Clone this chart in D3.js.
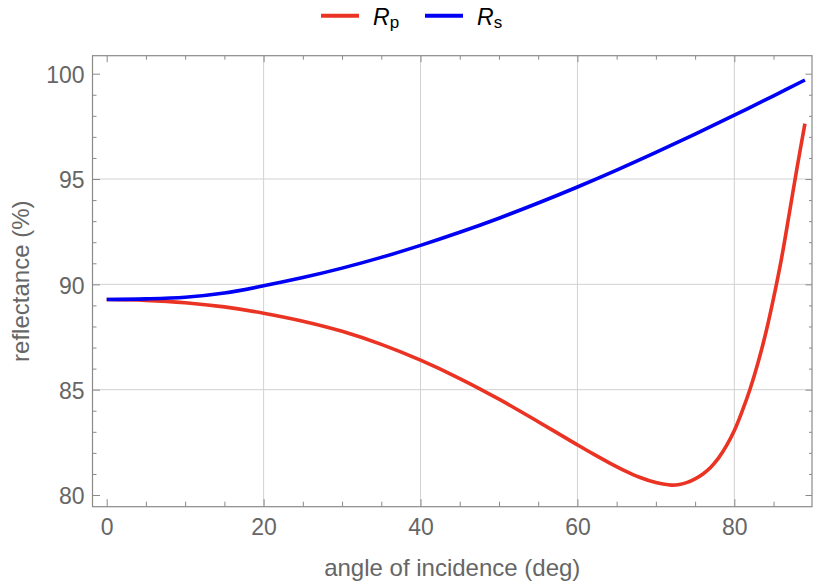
<!DOCTYPE html>
<html>
<head>
<meta charset="utf-8">
<script src="https://cdn.jsdelivr.net/npm/d3@7"></script>
<style>
  body { margin: 0; background: #fff; }
  text { font-family: "Liberation Sans", Arial, sans-serif; }
</style>
</head>
<body>
<svg id="chart" width="814" height="583"></svg>
<script>
// values
var rsAngle = [0, 5, 10, 15, 20, 25, 30, 35, 40, 45, 50, 55, 60, 65, 70, 75, 80, 85, 89]
var rsValue = [89.28, 89.31, 89.39, 89.59, 89.93, 90.32, 90.77, 91.28, 91.85, 92.47, 93.14, 93.86, 94.62, 95.42, 96.26, 97.13, 98.03, 98.95, 99.7]

var rpAngle = [0, 5, 10, 15, 20, 25, 30, 35, 40, 45, 50, 55, 60, 62, 64, 66, 68, 70, 72, 73, 74, 75, 76, 77, 78, 79, 80, 81, 82, 83, 84, 85, 86, 87, 88, 89]
var rpValue = [89.28, 89.24, 89.13, 88.93, 88.63, 88.25, 87.77, 87.15, 86.4, 85.53, 84.55, 83.48, 82.38, 81.95, 81.54, 81.16, 80.83, 80.59, 80.47, 80.5, 80.6, 80.77, 81.0, 81.32, 81.76, 82.34, 83.06, 83.98, 85.02, 86.25, 87.68, 89.35, 91.2, 93.35, 95.55, 97.63]

var xMajor = [0, 20, 40, 60, 80]
var yMajor = [80, 85, 90, 95, 100]
var xGrid = [20, 40, 60, 80]
var yGrid = [85, 90, 95]

var series = [
    { name: "p", color: "#ea3323", angle: rpAngle, value: rpValue },
    { name: "s", color: "#0000f5", angle: rsAngle, value: rsValue }
]

var svg = d3.select("#chart")

var plotLeft = 92.5, plotRight = 812, plotTop = 55.7, plotBottom = 506.7

var x = d3.scaleLinear().domain([-1.81, 89.9]).range([plotLeft, plotRight])
var y = d3.scaleLinear().domain([79.445, 100.854]).range([plotBottom, plotTop])

var frameColor = "#8a8a8a"
var textColor = "#666"

// grid lines
svg.selectAll(".vgrid").data(xGrid).enter().append("line")
    .attr("x1", d => x(d)).attr("x2", d => x(d))
    .attr("y1", plotTop).attr("y2", plotBottom)
    .style("stroke", "#d2d2d2").style("stroke-width", 1)

svg.selectAll(".hgrid").data(yGrid).enter().append("line")
    .attr("x1", plotLeft).attr("x2", plotRight)
    .attr("y1", d => y(d)).attr("y2", d => y(d))
    .style("stroke", "#d2d2d2").style("stroke-width", 1)

// curves
var line = d3.line().curve(d3.curveCatmullRom.alpha(0.5))
series.forEach(function (s) {
    var pts = s.angle.map((a, i) => [x(a), y(s.value[i])])
    svg.append("path")
        .attr("d", line(pts))
        .style("fill", "none")
        .style("stroke", s.color)
        .style("stroke-width", 3.6)
        .style("stroke-linecap", "butt")
})

// frame with ticks on all four sides
var xMinor = d3.range(5, 90, 5).filter(d => xMajor.indexOf(d) < 0)
var yMinor = d3.range(80, 101, 1).filter(d => yMajor.indexOf(d) < 0)

var g = svg.append("g")

g.append("g").attr("transform", "translate(0," + plotBottom + ")")
    .call(d3.axisBottom(x).tickValues(xMajor).tickSizeInner(-7.5).tickSizeOuter(0).tickPadding(12))
g.append("g").attr("transform", "translate(0," + plotBottom + ")")
    .call(d3.axisBottom(x).tickValues(xMinor).tickSize(-5).tickFormat(""))
g.append("g").attr("transform", "translate(0," + plotTop + ")")
    .call(d3.axisTop(x).tickValues(xMajor).tickSize(-6.5).tickFormat(""))
g.append("g").attr("transform", "translate(0," + plotTop + ")")
    .call(d3.axisTop(x).tickValues(xMinor).tickSize(-4).tickFormat(""))

g.append("g").attr("class", "yax").attr("transform", "translate(" + plotLeft + ",0)")
    .call(d3.axisLeft(y).tickValues(yMajor).tickSizeInner(-7.5).tickSizeOuter(0).tickPadding(8))
g.append("g").attr("transform", "translate(" + plotLeft + ",0)")
    .call(d3.axisLeft(y).tickValues(yMinor).tickSize(-4).tickFormat(""))
g.append("g").attr("transform", "translate(" + plotRight + ",0)")
    .call(d3.axisRight(y).tickValues(yMajor).tickSize(-6.5).tickFormat(""))
g.append("g").attr("transform", "translate(" + plotRight + ",0)")
    .call(d3.axisRight(y).tickValues(yMinor).tickSize(-3).tickFormat(""))

g.selectAll(".domain").remove()
g.selectAll(".tick line").style("stroke", frameColor).style("stroke-width", 1)
g.selectAll(".tick text")
    .style("fill", textColor)
    .style("font-size", "23px")
    .style("font-family", "'Liberation Sans', Arial, sans-serif")
g.selectAll(".yax .tick text").attr("dy", "0.38em")

svg.append("rect")
    .attr("x", plotLeft).attr("y", plotTop)
    .attr("width", plotRight - plotLeft).attr("height", plotBottom - plotTop)
    .style("fill", "none").style("stroke", frameColor).style("stroke-width", 1.2)

// axis labels
svg.append("text")
    .attr("x", (plotLeft + plotRight) / 2).attr("y", 576)
    .attr("text-anchor", "middle")
    .style("fill", textColor).style("font-size", "24px")
    .text("angle of incidence (deg)")

svg.append("text")
    .attr("transform", "translate(29," + (plotTop + plotBottom) / 2 + ") rotate(-90)")
    .attr("text-anchor", "middle")
    .style("fill", textColor).style("font-size", "24px")
    .text("reflectance (%)")

// legend
var legendX = [321, 425]
series.forEach(function (s, i) {
    svg.append("line")
        .attr("x1", legendX[i]).attr("x2", legendX[i] + 38)
        .attr("y1", 15.7).attr("y2", 15.7)
        .style("stroke", s.color).style("stroke-width", 4)
    var t = svg.append("text")
        .attr("x", legendX[i] + 52).attr("y", 25)
        .style("fill", "#000").style("font-size", "23px")
    t.append("tspan").style("font-style", "italic").text("R")
    t.append("tspan").attr("dy", 3).style("font-size", "17px").text(s.name)
})
</script>
</body>
</html>
